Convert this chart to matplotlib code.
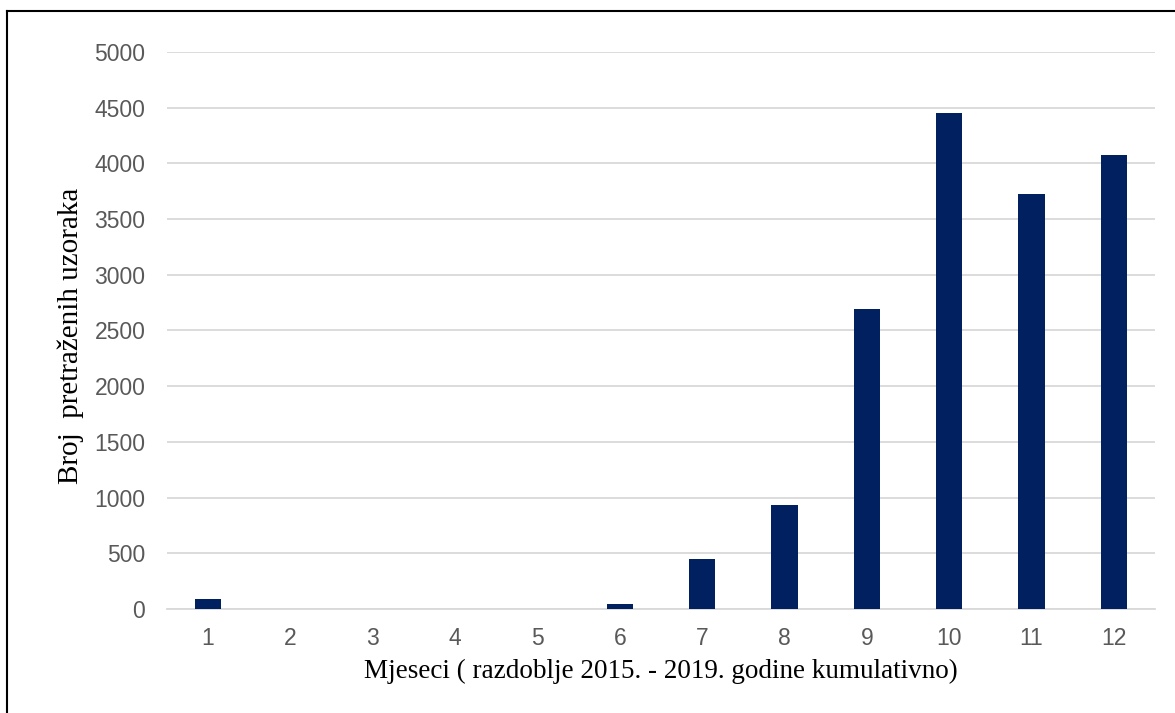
import matplotlib.pyplot as plt
from matplotlib.lines import Line2D

months = [str(m) for m in range(1, 13)]
counts = [90, 3, 3, 0, 0, 45, 450, 930, 2690, 4450, 3725, 4075]
yticks = list(range(0, 5001, 500))

fig = plt.figure(figsize=(11.75, 7.13), dpi=100)
ax = fig.add_axes([0.142, 0.146, 0.841, 0.781])

x = list(range(1, 13))
ax.bar(x, counts, width=0.32, color="#002060", zorder=3)

ax.set_xlim(0.5, 12.5)
ax.set_ylim(0, 5000)
ax.set_xticks(x)
ax.set_xticklabels(months)
ax.set_yticks(yticks)
ax.grid(axis="y", color="#d9d9d9", linewidth=1.3, zorder=0)
for s in ["top", "right", "left"]:
    ax.spines[s].set_visible(False)
ax.spines["bottom"].set_color("#d9d9d9")
ax.spines["bottom"].set_linewidth(1.3)
ax.tick_params(length=0, labelsize=16.5, labelcolor="#595959")
ax.tick_params(axis="x", pad=13)
ax.tick_params(axis="y", pad=15.5)
for t in ax.get_xticklabels() + ax.get_yticklabels():
    t.set_family("Liberation Sans")

ax.set_xlabel("Mjeseci ( razdoblje 2015. - 2019. godine kumulativno)",
              family="Liberation Serif", fontsize=19.5)
ax.xaxis.set_label_coords(0.5, -0.09)
ax.set_ylabel("Broj  pretraženih uzoraka",
              family="Liberation Serif", fontsize=21, va="center")
ax.yaxis.set_label_coords(-0.097, 0.49)

# frame around the chart (only top and left edges visible)
fig.add_artist(Line2D([7 / 1175, 1], [1 - 11 / 713, 1 - 11 / 713],
                      transform=fig.transFigure, color="black", linewidth=1.5))
fig.add_artist(Line2D([7 / 1175, 7 / 1175], [0, 1 - 11 / 713],
                      transform=fig.transFigure, color="black", linewidth=1.5))

fig.savefig("out.png", dpi=100)
